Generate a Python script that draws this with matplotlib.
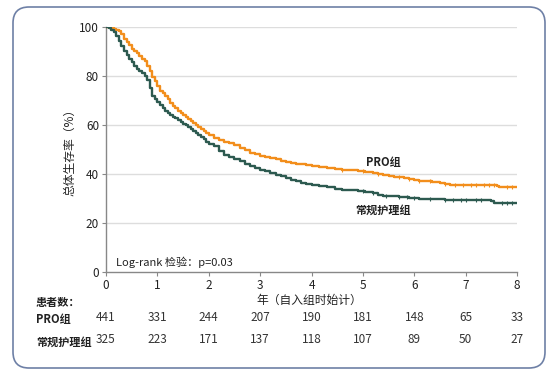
import matplotlib
matplotlib.use("Agg")
import matplotlib.pyplot as plt
from matplotlib.patches import FancyBboxPatch
import numpy as np

plt.rcParams['font.family'] = ['Noto Sans CJK SC', 'DejaVu Sans']

# Kaplan-Meier curves (years, % surviving)
pro_t = [0, 0.05, 0.1, 0.15, 0.2, 0.25, 0.3, 0.35, 0.4, 0.45, 0.5, 0.55, 0.6, 0.65, 0.7,
         0.75, 0.8, 0.85, 0.9, 0.95, 1.0, 1.05, 1.1, 1.15, 1.2, 1.25, 1.3, 1.35, 1.4, 1.45,
         1.5, 1.55, 1.6, 1.65, 1.7, 1.75, 1.8, 1.85, 1.9, 1.95, 2.0, 2.1, 2.2, 2.3, 2.4,
         2.5, 2.6, 2.7, 2.8, 2.9, 3.0, 3.1, 3.2, 3.3, 3.4, 3.5, 3.6, 3.7, 3.8, 3.9, 4.0,
         4.15, 4.3, 4.45, 4.6, 4.75, 4.9, 5.05, 5.2, 5.3, 5.4, 5.5, 5.6, 5.7, 5.8, 5.9, 6.0,
         6.1, 6.2, 6.35, 6.5, 6.6, 6.7, 6.85, 7.0, 7.3, 7.6, 7.65, 8.0]
pro_s = [100, 100, 99.6, 99.2, 98.8, 98.4, 97, 95.2, 94, 92.5, 91.2, 90.2, 89.2, 88, 87,
         86, 84, 82, 79.5, 77.8, 76, 73.8, 73, 71.8, 70.5, 69, 67.8, 66.8, 65.8, 65,
         64.1, 63.2, 62.5, 61.6, 60.8, 60, 59, 58.2, 57.4, 56.6, 55.9, 54.8, 53.8, 53.2, 52.6,
         51.8, 50.8, 49.8, 48.6, 48, 47.4, 46.9, 46.4, 46, 45.4, 45, 44.6, 44.2, 43.9, 43.6, 43.2,
         42.9, 42.6, 42.2, 41.8, 41.5, 41.2, 40.8, 40.3, 40, 39.5, 39.2, 38.9, 38.6, 38.2, 37.9, 37.6,
         37.3, 37, 36.6, 36.2, 36, 35.7, 35.6, 35.5, 35.4, 35.3, 34.5, 34.5]

usual_t = [0, 0.05, 0.1, 0.15, 0.2, 0.25, 0.3, 0.35, 0.4, 0.45, 0.5, 0.55, 0.6, 0.65, 0.7,
           0.75, 0.8, 0.85, 0.9, 0.95, 1.0, 1.05, 1.1, 1.15, 1.2, 1.25, 1.3, 1.35, 1.4, 1.45,
           1.5, 1.55, 1.6, 1.65, 1.7, 1.75, 1.8, 1.85, 1.9, 1.95, 2.0, 2.1, 2.2, 2.3, 2.4,
           2.5, 2.6, 2.7, 2.8, 2.9, 3.0, 3.1, 3.2, 3.3, 3.4, 3.5, 3.6, 3.7, 3.8, 3.9, 4.0,
           4.15, 4.3, 4.45, 4.6, 4.75, 4.9, 5.05, 5.2, 5.3, 5.4, 5.5, 5.6, 5.7, 5.8, 5.9, 6.0,
           6.1, 6.2, 6.35, 6.5, 6.6, 6.7, 6.85, 7.0, 7.3, 7.5, 7.55, 8.0]
usual_s = [100, 99.5, 98.8, 97.8, 96.2, 94.4, 92.4, 90.3, 88.6, 87, 85.6, 84.2, 82.9, 82, 81.2,
           79.8, 78.2, 75.2, 72, 70.6, 69.3, 68, 66.8, 65.8, 65, 64.2, 63.4, 62.7, 62, 61.3,
           60.6, 59.9, 59.3, 58.4, 57.5, 56.8, 56, 55.2, 54.2, 53, 52.2, 51.5, 49.2, 47.8, 47,
           46.2, 45.2, 44, 43.2, 42.6, 41.8, 41.2, 40.5, 39.6, 39, 38.2, 37.5, 37, 36.5, 36, 35.5,
           35.1, 34.6, 34, 33.6, 33.3, 33, 32.6, 32.2, 31.6, 31.2, 31, 30.9, 30.8, 30.6, 30.4, 30.2,
           30, 29.9, 29.8, 29.6, 29.5, 29.4, 29.3, 29.3, 29.2, 29.1, 28.2, 28.2]

# censoring ticks
pro_cens = [4.6, 5.0, 5.3, 5.7, 5.9, 6.1, 6.3, 6.6, 6.8, 6.95, 7.1, 7.2, 7.35, 7.45, 7.55, 7.8, 7.9]
usual_cens = [5.0, 5.2, 5.45, 5.7, 5.85, 6.0, 6.3, 6.6, 6.75, 6.9, 7.0, 7.2, 7.3, 7.7, 7.8, 7.9]

years = [0, 1, 2, 3, 4, 5, 6, 7, 8]
risk_pro = [441, 331, 244, 207, 190, 181, 148, 65, 33]
risk_usual = [325, 223, 171, 137, 118, 107, 89, 50, 27]

orange = '#F28E1C'
green = '#2D5A50'
txt = '#222222'

fig = plt.figure(figsize=(5.53, 3.78), dpi=100)

# rounded frame around everything
box = FancyBboxPatch((0.13, 0.10), 5.32, 3.61, boxstyle="round,pad=0,rounding_size=0.16",
                     transform=fig.dpi_scale_trans, facecolor='none', edgecolor='#6E80A6',
                     linewidth=1.2, zorder=0)
fig.patches.append(box)

ax = fig.add_axes([0.1917, 0.2804, 0.7433, 0.6482])
ax.patch.set_alpha(0)


def step_at(ts, ss, x):
    i = np.searchsorted(ts, x, side='right') - 1
    return np.array(ss)[i]


ax.plot(pro_t, pro_s, drawstyle='steps-post', color=orange, lw=1.7, zorder=3)
ax.plot(usual_t, usual_s, drawstyle='steps-post', color=green, lw=1.7, zorder=3)
ax.plot(pro_cens, step_at(pro_t, pro_s, pro_cens), ls='none', marker='|', ms=3.5,
        mew=0.8, color=orange, zorder=3)
ax.plot(usual_cens, step_at(usual_t, usual_s, usual_cens), ls='none', marker='|', ms=3.5,
        mew=0.8, color=green, zorder=3)

ax.set_xlim(0, 8)
ax.set_ylim(0, 100)
ax.set_xticks(years)
ax.set_yticks([0, 20, 40, 60, 80, 100])
for y in [20, 40, 60, 80, 100]:
    ax.axhline(y, color='#DDDDDD', lw=1, zorder=1)
for s in ['top', 'right']:
    ax.spines[s].set_visible(False)
for s in ['left', 'bottom']:
    ax.spines[s].set_color('#888888')
    ax.spines[s].set_linewidth(1)
ax.tick_params(length=3, width=0.8, color='#888888', labelsize=8.5, labelcolor=txt, pad=2)

ax.set_ylabel('总体生存率（%）', fontsize=8.5, color=txt, labelpad=2)
ax.text(3.95, -0.115, '年（自入组时始计）', transform=ax.get_xaxis_transform(),
        ha='center', va='center', fontsize=8.5, color=txt)

ax.text(5.4, 44.8, 'PRO组', ha='center', va='center', fontsize=8, fontweight='bold', color=txt)
ax.text(5.4, 25.3, '常规护理组', ha='center', va='center', fontsize=8, fontweight='bold', color=txt)
ax.text(0.19, 3.8, 'Log-rank 检验：p=0.03', ha='left', va='center', fontsize=8, color=txt)

# number at risk table
fig.text(36 / 553, 1 - 302.5 / 378, '患者数：', ha='left', va='center', fontsize=8,
         fontweight='bold', color=txt)
fig.text(36 / 553, 1 - 320 / 378, 'PRO组', ha='left', va='center', fontsize=8,
         fontweight='bold', color=txt)
fig.text(36 / 553, 1 - 342 / 378, '常规护理组', ha='left', va='center', fontsize=8,
         fontweight='bold', color=txt)
for x, a, b in zip(years, risk_pro, risk_usual):
    ax.text(x, -0.187, str(a), transform=ax.get_xaxis_transform(), ha='center', va='center',
            fontsize=8.5, color='#333333')
    ax.text(x, -0.276, str(b), transform=ax.get_xaxis_transform(), ha='center', va='center',
            fontsize=8.5, color='#333333')

fig.savefig('out.png', dpi=100)
